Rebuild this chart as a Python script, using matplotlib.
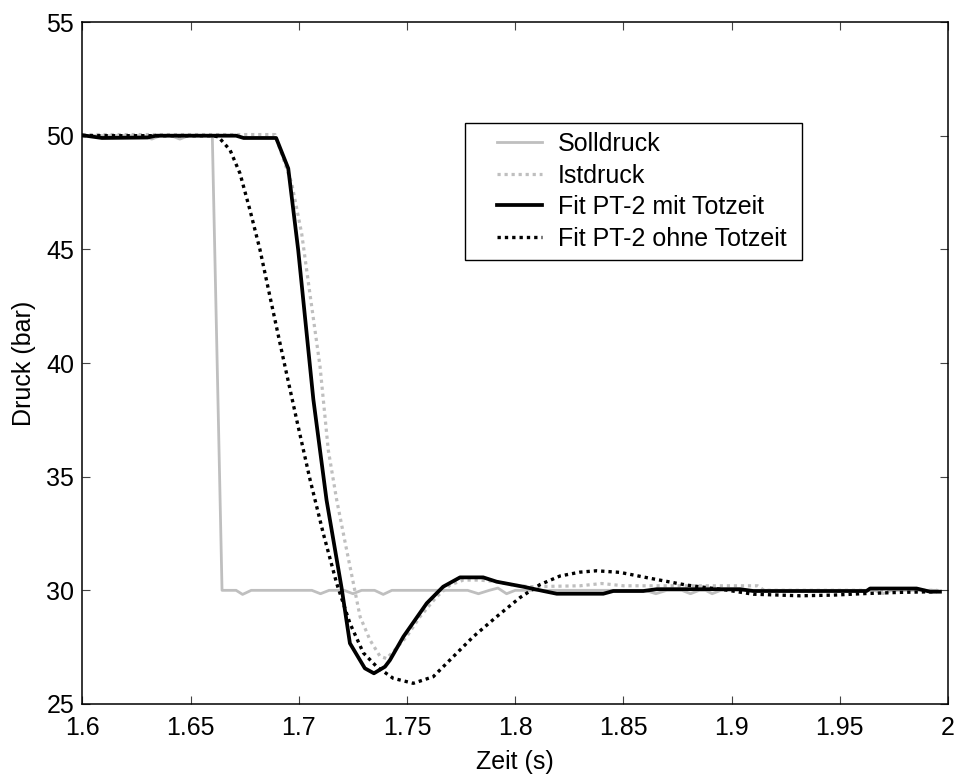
import matplotlib
matplotlib.use("Agg")
import matplotlib.pyplot as plt
from matplotlib.legend_handler import HandlerLine2D

plt.rcParams['font.family'] = ['Liberation Sans', 'DejaVu Sans']

# Solldruck (setpoint pressure)
soll_t = [1.600, 1.628, 1.632, 1.636, 1.641, 1.645, 1.649, 1.660, 1.6645,
          1.671, 1.674, 1.678, 1.706, 1.710, 1.714, 1.721, 1.725, 1.729,
          1.735, 1.739, 1.743, 1.778, 1.783, 1.788, 1.792, 1.796, 1.800,
          1.860, 1.865, 1.870, 1.877, 1.881, 1.885, 1.888, 1.891, 1.895,
          1.966, 1.970, 1.974, 1.995]
soll_p = [50.00, 50.00, 49.85, 50.00, 50.00, 49.85, 50.00, 50.00, 30.00,
          30.00, 29.82, 30.00, 30.00, 29.85, 30.00, 30.00, 29.85, 30.00,
          30.00, 29.82, 30.00, 30.00, 29.85, 30.00, 30.10, 29.85, 30.00,
          30.00, 29.85, 30.00, 30.00, 29.85, 30.00, 30.00, 29.85, 30.00,
          30.00, 29.85, 30.00, 30.00]

# Istdruck (measured pressure)
ist_t = [1.600, 1.640, 1.689, 1.6967, 1.7013, 1.7051, 1.7098, 1.7136, 1.7175,
         1.7221, 1.7252, 1.7283, 1.7329, 1.7375, 1.7405, 1.7436, 1.7498, 1.756,
         1.7637, 1.7698, 1.776, 1.7837, 1.7914, 1.7991, 1.8068, 1.830, 1.840,
         1.850, 1.875, 1.900, 1.912, 1.915, 1.995]
ist_p = [50.05, 50.05, 50.05, 47.90, 45.70, 43.06, 39.84, 36.17, 33.97,
         31.77, 30.31, 28.84, 27.81, 27.10, 27.00, 27.30, 27.96, 28.84,
         29.72, 30.23, 30.45, 30.45, 30.38, 30.23, 30.16, 30.20, 30.30,
         30.20, 30.20, 30.20, 30.20, 30.00, 30.00]

# PT-2 fit with dead time
fit_mit_t = [1.600, 1.609, 1.630, 1.634, 1.671, 1.6745, 1.6895, 1.6951, 1.6997,
             1.7067, 1.7128, 1.7198, 1.7236, 1.7305, 1.7347, 1.7398, 1.7421,
             1.7483, 1.7591, 1.7667, 1.7745, 1.7852, 1.7914, 1.8037, 1.8130,
             1.8192, 1.8407, 1.8453, 1.8592, 1.8654, 1.9039, 1.910, 1.9624,
             1.964, 1.9855, 1.9917, 1.9963]
fit_mit_p = [50.02, 49.90, 49.92, 50.00, 50.00, 49.90, 49.90, 48.56, 44.97,
             38.40, 33.97, 30.08, 27.67, 26.57, 26.35, 26.64, 26.93,
             27.96, 29.43, 30.16, 30.57, 30.57, 30.38, 30.16, 29.97,
             29.85, 29.85, 29.97, 29.97, 30.05, 30.05, 29.97, 29.97,
             30.08, 30.08, 29.94, 29.94]

# PT-2 fit without dead time
fit_ohne_t = [1.600, 1.660, 1.6628, 1.6682, 1.6728, 1.6774, 1.682, 1.6867,
              1.6928, 1.699, 1.7051, 1.7113, 1.7175, 1.7236, 1.7298, 1.736,
              1.7436, 1.7529, 1.7621, 1.7683, 1.7806, 1.7914, 1.8022, 1.8114,
              1.8207, 1.8299, 1.8376, 1.8484, 1.8623, 1.8792, 1.8977, 1.910,
              1.9316, 1.947, 1.9624, 1.9778, 1.9948]
fit_ohne_p = [50.00, 50.00, 49.95, 49.37, 48.34, 46.73, 45.00, 42.90,
              40.20, 37.50, 34.90, 32.50, 30.30, 28.55, 27.25, 26.64,
              26.13, 25.91, 26.20, 26.79, 27.96, 28.84, 29.68, 30.25,
              30.63, 30.80, 30.86, 30.79, 30.53, 30.23, 30.01, 29.83,
              29.76, 29.79, 29.86, 29.91, 29.94]

x_ticks = [1.6, 1.65, 1.7, 1.75, 1.8, 1.85, 1.9, 1.95, 2.0]
x_tick_labels = ["1.6", "1.65", "1.7", "1.75", "1.8", "1.85", "1.9", "1.95", "2"]
y_ticks = [25, 30, 35, 40, 45, 50, 55]

gray = '#bfbfbf'
dots = (0, (1.0, 1.2))
fs = 18

fig = plt.figure(figsize=(9.59, 7.76), dpi=100)
ax = fig.add_axes([0.086, 0.0928, 0.9025, 0.8788])

ax.plot(soll_t, soll_p, color=gray, lw=2.0, label='Solldruck')
ax.plot(ist_t, ist_p, color=gray, lw=2.3, linestyle=dots,
        dash_capstyle='butt', label='Istdruck')
ax.plot(fit_mit_t, fit_mit_p, color='black', lw=2.7,
        label='Fit PT-2 mit Totzeit')
ax.plot(fit_ohne_t, fit_ohne_p, color='black', lw=2.4, linestyle=dots,
        dash_capstyle='butt', label='Fit PT-2 ohne Totzeit')

ax.set_xlim(1.6, 2.0)
ax.set_ylim(25, 55)
ax.set_xticks(x_ticks)
ax.set_xticklabels(x_tick_labels)
ax.set_yticks(y_ticks)
ax.tick_params(direction='in', top=True, right=True, length=6, width=0.8,
               labelsize=fs, color='#444444')
ax.tick_params(axis='x', pad=9)
ax.tick_params(axis='y', pad=6)
for s in ax.spines.values():
    s.set_linewidth(1.1)

ax.set_xlabel('Zeit (s)', fontsize=fs, labelpad=6.5)
ax.set_ylabel('Druck (bar)', fontsize=fs, labelpad=7)

# legend handles indented inside a fixed-width box
leg = ax.legend(loc='upper left', bbox_to_anchor=(0.442, 0.652, 0.3894, 0.2),
                mode='expand', borderaxespad=0, fontsize=fs,
                handlelength=2.71, handletextpad=0.64, labelspacing=0.30,
                borderpad=0.37, fancybox=False, framealpha=1,
                edgecolor='black',
                handler_map={plt.Line2D: HandlerLine2D(xpad=0.91)})
leg.get_frame().set_linewidth(1.0)

fig.savefig('out.png', dpi=100)
